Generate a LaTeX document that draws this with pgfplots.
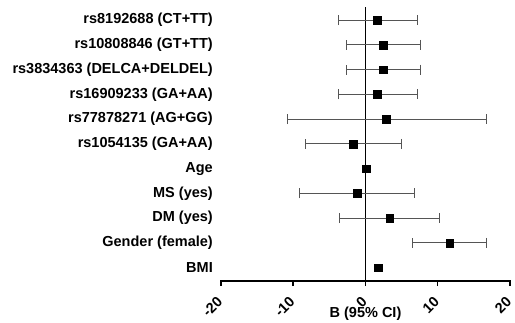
\documentclass[border=0pt]{standalone}
\usepackage{fontspec}
\setmainfont{Liberation Sans}
\usepackage{pgfplots}
\pgfplotsset{compat=1.18}
\definecolor{barg}{HTML}{555555}
\begin{document}
\begin{tikzpicture}
\begin{axis}[
  at={(0,0)}, anchor=south west,
  scale only axis, width=289bp, height=274bp,
  xmin=-20, xmax=20, ymin=0.46, ymax=11.53,
  axis x line*=bottom, axis y line*=left,
  separate axis lines,
  x axis line style={line width=1.5bp, black},
  y axis line style={draw=none},
  xtick={-20,-10,0,10,20},
  xtick style={line width=1.5bp, black},
  ytick style={draw=none},
  tick align=outside,
  major tick length=5bp,
  ytick={1,...,11},
  yticklabels={BMI, Gender (female), DM (yes), MS (yes), Age, rs1054135 (GA+AA), rs77878271 (AG+GG), rs16909233 (GA+AA), rs3834363 (DELCA+DELDEL), rs10808846 (GT+TT), rs8192688 (CT+TT)},
  yticklabel style={anchor=east, inner sep=0pt, xshift=-3bp},
  tick label style={font=\fontsize{14.5bp}{17bp}\selectfont\bfseries},
  label style={font=\fontsize{14.5bp}{17bp}\selectfont\bfseries},
  /pgf/number format/assume math mode=true,
  xticklabel style={rotate=45, anchor=north east, inner sep=0pt, yshift=-3bp, xshift=-10bp},
  xlabel={B (95\% CI)},
  xlabel style={at={(axis description cs:0.5,0)}, anchor=base, yshift=-36bp},
  clip=false,
]
\addplot[black, line width=1.5bp] coordinates {(0,0.46) (0,11.53)};
\addplot[black, line width=1.5bp] coordinates {(-20,0.46) (20,0.46)};
\addplot[black, line width=1.5bp] coordinates {(-20,0.49) (-20,0.26)};
\addplot[black, line width=1.5bp] coordinates {(-10,0.49) (-10,0.26)};
\addplot[black, line width=1.5bp] coordinates {(0,0.49) (0,0.26)};
\addplot[black, line width=1.5bp] coordinates {(10,0.49) (10,0.26)};
\addplot[black, line width=1.5bp] coordinates {(20,0.49) (20,0.26)};
\addplot[only marks, mark=square*, mark size=3.9bp, black,
  error bars/.cd, x dir=both, x explicit,
  error bar style={barg, line width=0.8bp},
  error mark options={barg, rotate=90, mark size=5bp, line width=0.8bp}]
coordinates {
  (1.66,11) += (5.54,0) -= (5.46,0)
  (2.5,10) += (5.1,0) -= (5.1,0)
  (2.5,9) += (5.1,0) -= (5.1,0)
  (1.66,8) += (5.54,0) -= (5.46,0)
  (2.9,7) += (13.8,0) -= (13.7,0)
  (-1.7,6) += (6.6,0) -= (6.55,0)
  (-1.15,4) += (7.95,0) -= (7.95,0)
  (3.36,3) += (6.84,0) -= (6.91,0)
  (11.66,2) += (5.14,0) -= (5.16,0)
};
\addplot[only marks, mark=square*, mark size=3.9bp, black] coordinates {
  (0.14,5) (1.75,1)
};
\end{axis}
\pgfresetboundingbox
\path[use as bounding box] (-221bp,-42bp) rectangle (294bp,281bp);
\end{tikzpicture}
\end{document}
